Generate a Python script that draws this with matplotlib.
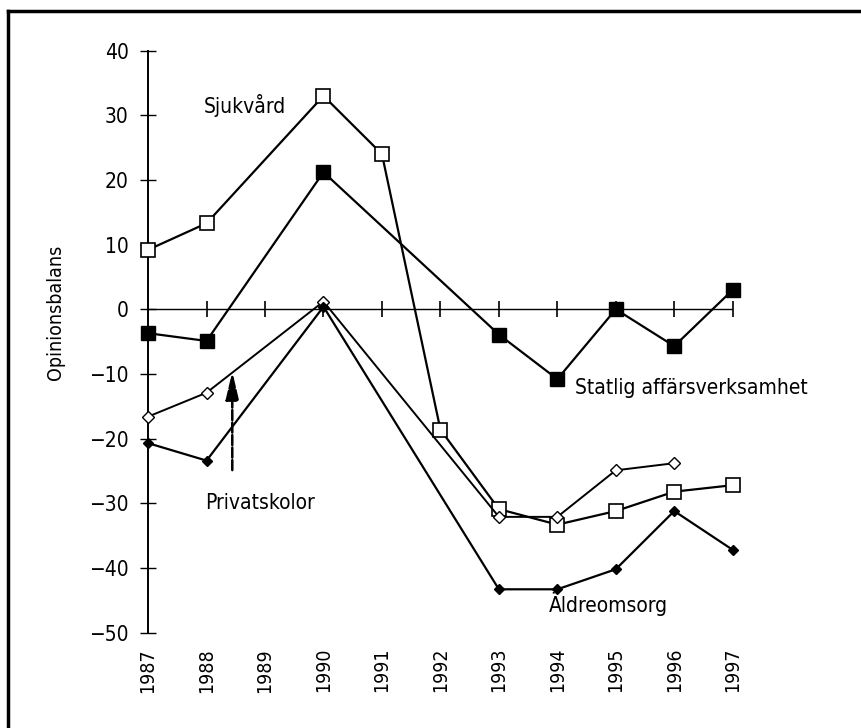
import matplotlib
matplotlib.use('Agg')
import matplotlib.pyplot as plt
from matplotlib.lines import Line2D

plt.rcParams['font.family'] = ['DejaVu Sans']
plt.rcParams['font.stretch'] = 'condensed'

# Data (opinion balance per year)

years = list(range(1987, 1998))

sjukvard_x = [1987, 1988, 1990, 1991, 1992, 1993, 1994, 1995, 1996, 1997]
sjukvard_y = [9.2, 13.3, 33.0, 24.0, -18.6, -30.9, -33.3, -31.2, -28.2, -27.2]

statlig_x = [1987, 1988, 1990, 1993, 1994, 1995, 1996, 1997]
statlig_y = [-3.7, -4.9, 21.2, -3.9, -10.8, 0.0, -5.7, 3.0]

privat_x = [1987, 1988, 1990, 1993, 1994, 1995, 1996]
privat_y = [-16.6, -12.9, 1.2, -32.1, -32.1, -24.9, -23.8]

aldre_x = [1987, 1988, 1990, 1993, 1994, 1995, 1996, 1997]
aldre_y = [-20.7, -23.4, 0.4, -43.3, -43.3, -40.2, -31.2, -37.2]

fig = plt.figure(figsize=(8.61, 7.28), dpi=100)
ax = fig.add_axes([0.172, 0.131, 0.679, 0.7995])

# Zero line with year ticks
ax.axhline(0, color='black', lw=1.0, zorder=1)
ax.plot(years[1:], [0] * len(years[1:]), ls='none', marker='|',
        ms=12, mew=1.2, color='black', clip_on=False, zorder=1)

# Series
ax.plot(sjukvard_x, sjukvard_y, color='black', lw=1.6, marker='s', ms=10,
        mfc='white', mec='black', mew=1.2, clip_on=False, zorder=3)
ax.plot(statlig_x, statlig_y, color='black', lw=1.6, marker='s', ms=10,
        mfc='black', mec='black', clip_on=False, zorder=3)
ax.plot(privat_x, privat_y, color='black', lw=1.4, marker='D', ms=6,
        mfc='white', mec='black', mew=1.0, clip_on=False, zorder=4)
ax.plot(aldre_x, aldre_y, color='black', lw=1.6, marker='D', ms=5,
        mfc='black', mec='black', clip_on=False, zorder=4)

# Labels on the chart
ax.text(1988.65, 31.5, 'Sjukvård', fontsize=15, ha='center', va='center')
ax.text(1994.3, -12.1, 'Statlig affärsverksamhet', fontsize=15, ha='left', va='center')
ax.text(1988.92, -29.9, 'Privatskolor', fontsize=15, ha='center', va='center')
ax.text(1994.88, -45.5, 'Äldreomsorg', fontsize=15, ha='center', va='center')

# Arrow for Privatskolor
ax.annotate('', xy=(1988.44, -9.2), xytext=(1988.44, -25.3),
            arrowprops=dict(arrowstyle='-|>,head_length=1.7,head_width=0.4',
                            color='black', lw=1.8, ls=(0, (4, 1))))

ax.set_xlim(1987, 1997)
ax.set_ylim(-50, 40)
ax.set_yticks(range(-50, 41, 10))
ax.set_yticklabels([str(v).replace('-', '\u2212') for v in range(-50, 41, 10)])
ax.set_xticks(years)
ax.set_xticklabels([str(y) for y in years], rotation=90, fontsize=14)

for s in ['top', 'right', 'bottom']:
    ax.spines[s].set_visible(False)
ax.spines['left'].set_linewidth(1.4)
ax.tick_params(axis='y', direction='inout', length=12, width=1.0,
               labelsize=15, pad=8)
ax.tick_params(axis='x', length=0, pad=11)

fig.text(55 / 861, 1 - 312 / 728, 'Opinionsbalans', rotation=90,
         fontsize=14, ha='center', va='center')

# Outer frame: left and top only
fig.add_artist(Line2D([8 / 861, 8 / 861], [0, 1 - 11 / 728],
                      transform=fig.transFigure, color='black', lw=2.5))
fig.add_artist(Line2D([8 / 861, 1], [1 - 11 / 728, 1 - 11 / 728],
                      transform=fig.transFigure, color='black', lw=2.5))

fig.savefig('out.png', dpi=100)
